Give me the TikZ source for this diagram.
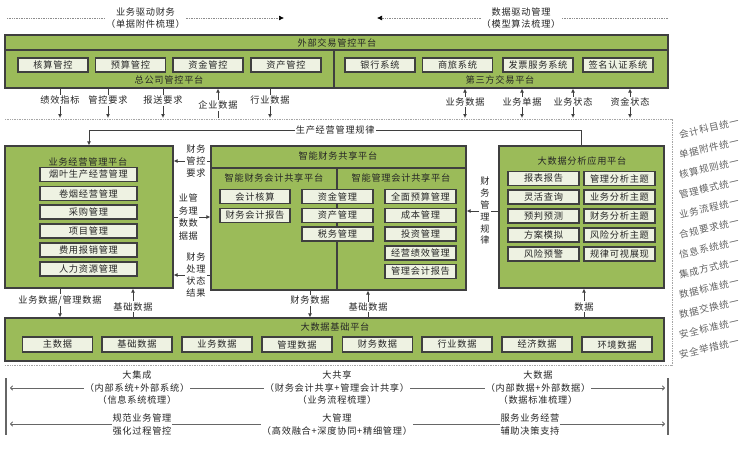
\documentclass[tikz,border=0pt]{standalone}
\usepackage{fontspec}
\setmainfont{Noto Sans CJK SC}[LetterSpace=8]
\usetikzlibrary{arrows.meta,calc}
\definecolor{pgreen}{HTML}{9BBB59}
\definecolor{bfill}{HTML}{EEF2E2}
\definecolor{bline}{HTML}{3F3F3F}
\definecolor{txt}{HTML}{262626}
\begin{document}
\begin{tikzpicture}[x=1pt,y=-1pt,
 panel/.style={draw=bline,fill=pgreen,line width=1.2pt,inner sep=0pt},
 pline/.style={draw=bline,line width=1.2pt},
 ibox/.style={draw=bline,fill=bfill,line width=1.1pt,minimum height=14pt,inner sep=0pt,font=\fontsize{9.2}{10}\selectfont,text=txt},
 ttl/.style={font=\fontsize{9.2}{10}\selectfont,text=txt,inner sep=0pt},
 lbl/.style={font=\fontsize{9.2}{12}\selectfont,text=txt,fill=white,inner sep=1pt,align=center},
 plbl/.style={font=\fontsize{9.2}{11.8}\selectfont,text=txt,fill=white,inner sep=1pt,align=center},
 arr/.style={draw=bline,line width=0.8pt,-{Latex[length=4pt,width=4pt]}},
 darr/.style={draw=bline,line width=0.8pt,{Latex[length=4pt,width=4pt]}-{Latex[length=4pt,width=4pt]}},
 dotl/.style={draw=black!45,densely dotted,line width=0.7pt,-{Latex[length=5pt,width=5pt,black]}},
 garr/.style={draw=black!60,line width=0.9pt,-{To[length=3pt,width=5pt]}},
 btxt/.style={font=\fontsize{9.2}{12.5}\selectfont,text=txt,fill=white,inner sep=1pt,align=center},
 side/.style={font=\fontsize{9.5}{10}\selectfont,text=black!62,rotate=13,inner sep=0pt}
]
\useasboundingbox (0,0) rectangle (750,452);

% ---------- top dotted arrows ----------
\coordinate (ta1) at (7,18); \coordinate (tb1) at (284,18);
\draw[dotl] (ta1) -- node[lbl,pos=0.5]{业务驱动财务\\（单据附件梳理）} (tb1);
\coordinate (ta2) at (668,18); \coordinate (tb2) at (377,18);
\draw[dotl] (ta2) -- node[lbl,pos=0.505]{数据驱动管理\\（模型算法梳理）} (tb2);

% ---------- external platform ----------
\node[panel,minimum width=663pt,minimum height=53pt] (ext) at (336.5,61.5) {};
\draw[pline] (5,50) -- (668,50);
\draw[pline] (334,50) -- (334,88);
\node[ttl] (extt) at (337,43) {外部交易管控平台};
\node[ttl] (hq) at (169,80) {总公司管控平台};
\node[ttl] (tp) at (500,80) {第三方交易平台};
\node[ibox,minimum width=70pt] (e1) at (53,65) {核算管控};
\node[ibox,minimum width=70pt] (e2) at (130.5,65) {预算管控};
\node[ibox,minimum width=70pt] (e3) at (208,65) {资金管控};
\node[ibox,minimum width=70pt] (e4) at (286,65) {资产管控};
\node[ibox,minimum width=70pt] (e5) at (380,65) {银行系统};
\node[ibox,minimum width=70pt] (e6) at (457.5,65) {商旅系统};
\node[ibox,minimum width=70pt] (e7) at (538,65) {发票服务系统};
\node[ibox,minimum width=70pt] (e8) at (618,65) {签名认证系统};

% arrows below external platform
\foreach \x/\t in {60/绩效指标,108/管控要求,163/报送要求,270/行业数据}{
  \coordinate (d\x) at (\x,118);
  \draw[arr] (ext.south -| d\x) -- node[lbl,pos=0.4]{\t} (d\x);
}
\coordinate (u218) at (218,118);
\draw[arr] (u218) -- node[lbl,pos=0.43]{企业数据} (ext.south -| u218);
\foreach \x/\t in {465/业务数据,522/业务单据,573/业务状态,630/资金状态}{
  \coordinate (b\x) at (\x,118);
  \draw[darr] (ext.south -| b\x) -- node[lbl,pos=0.45]{\t} (b\x);
}

% dotted frame
\draw[black!35,densely dotted,line width=0.7pt] (5,119) -- (672,119) -- (672,365) -- (5,365);

% ---------- three panels ----------
\node[panel,minimum width=168pt,minimum height=142pt] (yw) at (89,217) {};
\node[ttl] (ywt) at (88,162) {业务经营管理平台};
\foreach \i/\y/\t in {1/174.5/烟叶生产经营管理,2/193.5/卷烟经营管理,3/212/采购管理,4/231/项目管理,5/250/费用报销管理,6/269/人力资源管理}{
  \node[ibox,minimum width=97pt] (yb\i) at (88.5,\y) {\t};
}

\node[panel,minimum width=255pt,minimum height=144pt] (cw) at (338.5,218) {};
\draw[pline] (211,168) -- (466,168);
\draw[pline] (337,168) -- (337,290);
\node[ttl] (cwt) at (338,156) {智能财务共享平台};
\node[ttl] (cwa) at (274,178) {智能财务会计共享平台};
\node[ttl] (cwb) at (401,178) {智能管理会计共享平台};
\node[ibox,minimum width=70pt] (c1) at (255,196.5) {会计核算};
\node[ibox,minimum width=70pt] (c2) at (255,215.5) {财务会计报告};
\node[ibox,minimum width=71pt] (c3) at (337.5,196.5) {资金管理};
\node[ibox,minimum width=71pt] (c4) at (337.5,215.5) {资产管理};
\node[ibox,minimum width=71pt] (c5) at (337.5,234) {税务管理};
\node[ibox,minimum width=71pt] (c6) at (420.5,196.5) {全面预算管理};
\node[ibox,minimum width=71pt] (c7) at (420.5,215.5) {成本管理};
\node[ibox,minimum width=71pt] (c8) at (420.5,234) {投资管理};
\node[ibox,minimum width=71pt] (c9) at (420.5,253) {经营绩效管理};
\node[ibox,minimum width=71pt] (c10) at (420.5,271.5) {管理会计报告};

\node[panel,minimum width=165pt,minimum height=142pt] (bd) at (581.5,217) {};
\node[ttl] (bdt) at (582,161) {大数据分析应用平台};
\foreach \i/\y/\ta/\tb in {1/178.5/报表报告/管理分析主题,2/197/灵活查询/业务分析主题,3/216/预判预测/财务分析主题,4/235/方案模拟/风险分析主题,5/254/风险预警/规律可视展现}{
  \node[ibox,minimum width=71pt] (ba\i) at (543.5,\y) {\ta};
  \node[ibox,minimum width=71pt] (bb\i) at (619.5,\y) {\tb};
}

% connector from big data panel to business panel
\coordinate (kc) at (89,130);
\draw[arr] (bd.north) |- node[lbl,pos=0.75]{生产经营管理规律} (kc) -- (yw.north);

% arrows between left and middle panels
\coordinate (h1) at (0,161); \coordinate (h2) at (0,217); \coordinate (h3) at (0,275);
\draw[arr] (cw.west |- h1) -- node[plbl,pos=0.39]{财务\\管控\\要求} (yw.east |- h1);
\draw[arr] (yw.east |- h2) -- node[plbl,pos=0.4,font=\fontsize{9.2}{12.7}\selectfont]{业管\\务理\\数数\\据据} (cw.west |- h2);
\draw[arr] (cw.west |- h3) -- node[plbl,pos=0.39]{财务\\处理\\状态\\结果} (yw.east |- h3);
% between right and middle
\coordinate (h4) at (0,211);
\draw[arr] (bd.west |- h4) -- node[plbl,pos=0.42]{财\\务\\管\\理\\规\\律} (cw.east |- h4);

% ---------- data platform ----------
\node[panel,minimum width=659pt,minimum height=43pt] (dp) at (334.5,339.5) {};
\node[ttl] (dpt) at (335,327) {大数据基础平台};
\foreach \i/\x/\t in {1/57.5/主数据,2/137/基础数据,3/217/业务数据,4/297/管理数据,5/377.5/财务数据,6/457/行业数据,7/537/经济数据,8/617/环境数据}{
  \node[ibox,minimum width=70pt,minimum height=15pt] (db\i) at (\x,344.5) {\t};
}

\coordinate (v60) at (60,0); \coordinate (v133) at (133,0); \coordinate (v310) at (310,0);
\coordinate (v368) at (368,0); \coordinate (v584) at (584,0);
\draw[arr] (yw.south -| v60) -- node[lbl,pos=0.4]{业务数据/管理数据} (dp.north -| v60);
\draw[arr] (dp.north -| v133) -- node[lbl,pos=0.37]{基础数据} (yw.south -| v133);
\draw[arr] (cw.south -| v310) -- node[lbl,pos=0.36]{财务数据} (dp.north -| v310);
\draw[arr] (dp.north -| v368) -- node[lbl,pos=0.39]{基础数据} (cw.south -| v368);
\draw[arr] (dp.north -| v584) -- node[lbl,pos=0.37]{数据} (bd.south -| v584);

% ---------- right side list ----------
\foreach \i/\t in {0/会计科目统一,1/单据附件统一,2/核算规则统一,3/管理模式统一,4/业务流程统一,5/合规要求统一,6/信息系统统一,7/集成方式统一,8/数据标准统一,9/数据交换统一,10/安全标准统一,11/安全举措统一}{
  \node[side] (s\i) at (709,128+20*\i) {\t};
}

% ---------- bottom section ----------
\coordinate (lb1) at (6,378); \coordinate (lb2) at (6,435);
\coordinate (rb1) at (668,378); \coordinate (rb2) at (668,435);
\draw[black!60,line width=1.4pt] (lb1) -- (lb2);
\draw[black!60,line width=1.4pt] (rb1) -- (rb2);
\coordinate (L1) at (10,388); \coordinate (R1) at (665,388); \coordinate (C1) at (337,388);
\coordinate (L2) at (10,424); \coordinate (R2) at (665,424); \coordinate (C2) at (337,424);
\draw[garr] (C1) -- (L1); \draw[garr] (C1) -- (R1);
\draw[garr] (C2) -- (L2); \draw[garr] (C2) -- (R2);
\node[btxt] (bjc) at (137,388) {大集成\\（内部系统+外部系统）\\（信息系统梳理）};
\node[btxt] (bgx) at (337,388) {大共享\\（财务会计共享+管理会计共享）\\（业务流程梳理）};
\node[btxt] (bsj) at (538,388) {大数据\\（内部数据+外部数据）\\（数据标准梳理）};
\node[btxt] (bgf) at (142,424.5) {规范业务管理\\强化过程管控};
\node[btxt] (bgl) at (337,424.5) {大管理\\（高效融合+深度协同+精细管理）};
\node[btxt] (bfw) at (530,424.5) {服务业务经营\\辅助决策支持};
\end{tikzpicture}
\end{document}
